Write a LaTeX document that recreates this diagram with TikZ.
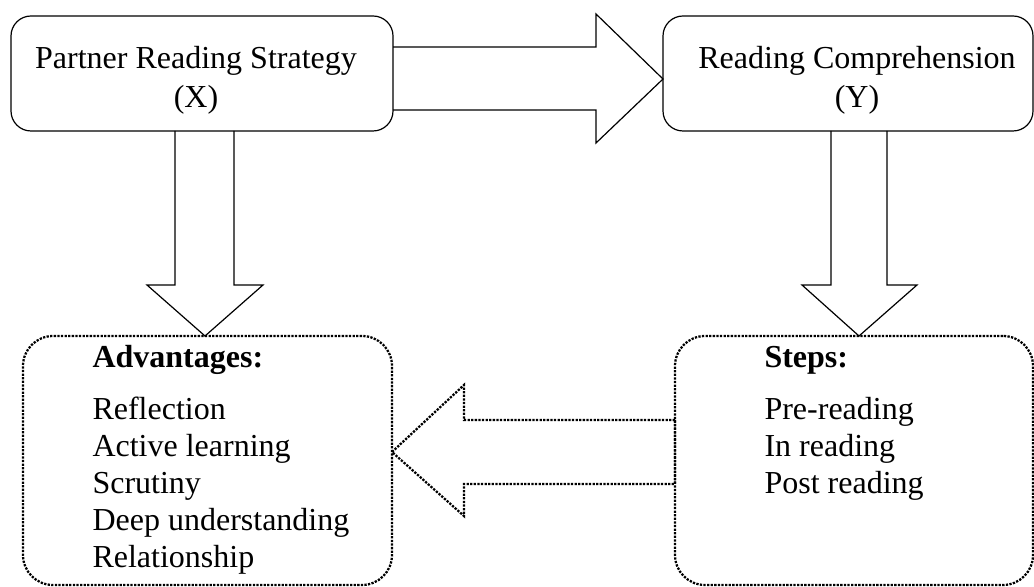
\documentclass[tikz,border=0pt]{standalone}
\usepackage{fontspec}
\setmainfont{Liberation Serif}
\usetikzlibrary{calc}

\begin{document}
\begin{tikzpicture}[x=0.375pt, y=-0.375pt,
    box/.style={rectangle, draw, line width=0.45pt, rounded corners=7.5pt, inner sep=0pt, outer sep=0pt, minimum height=43.125pt},
    listbox/.style={rectangle, draw, dotline, rounded corners=11.25pt, inner sep=0pt, outer sep=0pt, minimum height=93.375pt},
    dotline/.style={line width=0.85pt, dash pattern=on 0.85pt off 0.5pt},
    boxtext/.style={font=\fontsize{12}{14.6}\selectfont, align=center, inner sep=0pt},
    item/.style={font=\fontsize{12}{13.8}\selectfont, anchor=base west, inner sep=0pt},
    itemhead/.style={item, font=\fontsize{12}{13.8}\selectfont\bfseries},
    blockarrow/.style={line width=0.45pt, line join=miter},
    dotarrow/.style={dotline, line join=miter}
]
\useasboundingbox (0,0) rectangle (1034,587);
\clip (0,0) rectangle (1034,587);

% Variables
\node[box, minimum width=143.25pt] (px) at (202,73.5) {};
\node[boxtext] (pxtext) at (196,80) {Partner Reading Strategy\\(X)};
\node[box, minimum width=138.75pt] (py) at (848,73.5) {};
\node[boxtext] (pytext) at (857,80) {Reading Comprehension\\(Y)};

% Lists
\node[listbox, minimum width=138.375pt] (adv) at (207.5,460.5) {};
\node[listbox, minimum width=134.25pt] (st) at (854,460.5) {};

\node[itemhead] (advhead) at (92,368) {Advantages:};
\node[item] (adv1) at (92,420) {Reflection};
\node[item] (adv2) at (92,457) {Active learning};
\node[item] (adv3) at (92,493) {Scrutiny};
\node[item] (adv4) at (92,530) {Deep understanding};
\node[item] (adv5) at (92,567) {Relationship};

\node[itemhead] (sthead) at (764,368) {Steps:};
\node[item] (st1) at (764,420) {Pre-reading};
\node[item] (st2) at (764,457) {In reading};
\node[item] (st3) at (764,493) {Post reading};

% Block arrows
\draw[blockarrow] (px.east |- 0,47) -- (596,47) -- (596,14) -- (py.west |- 0,79)
    -- (596,143) -- (596,110) -- (px.east |- 0,110);
\draw[blockarrow] (175,0 |- px.south) -- (175,285) -- (147,285) -- (205,0 |- adv.north)
    -- (263,285) -- (234,285) -- (234,0 |- px.south);
\draw[blockarrow] (831,0 |- py.south) -- (831,285) -- (802,285) -- (859,0 |- st.north)
    -- (917,285) -- (887,285) -- (887,0 |- py.south);

% Steps back to advantages
\draw[dotarrow] (st.west |- 0,420) -- (464,420) -- (464,385) -- (adv.east |- 0,452)
    -- (464,516) -- (464,484) -- (st.west |- 0,484) -- cycle;

\end{tikzpicture}
\end{document}
